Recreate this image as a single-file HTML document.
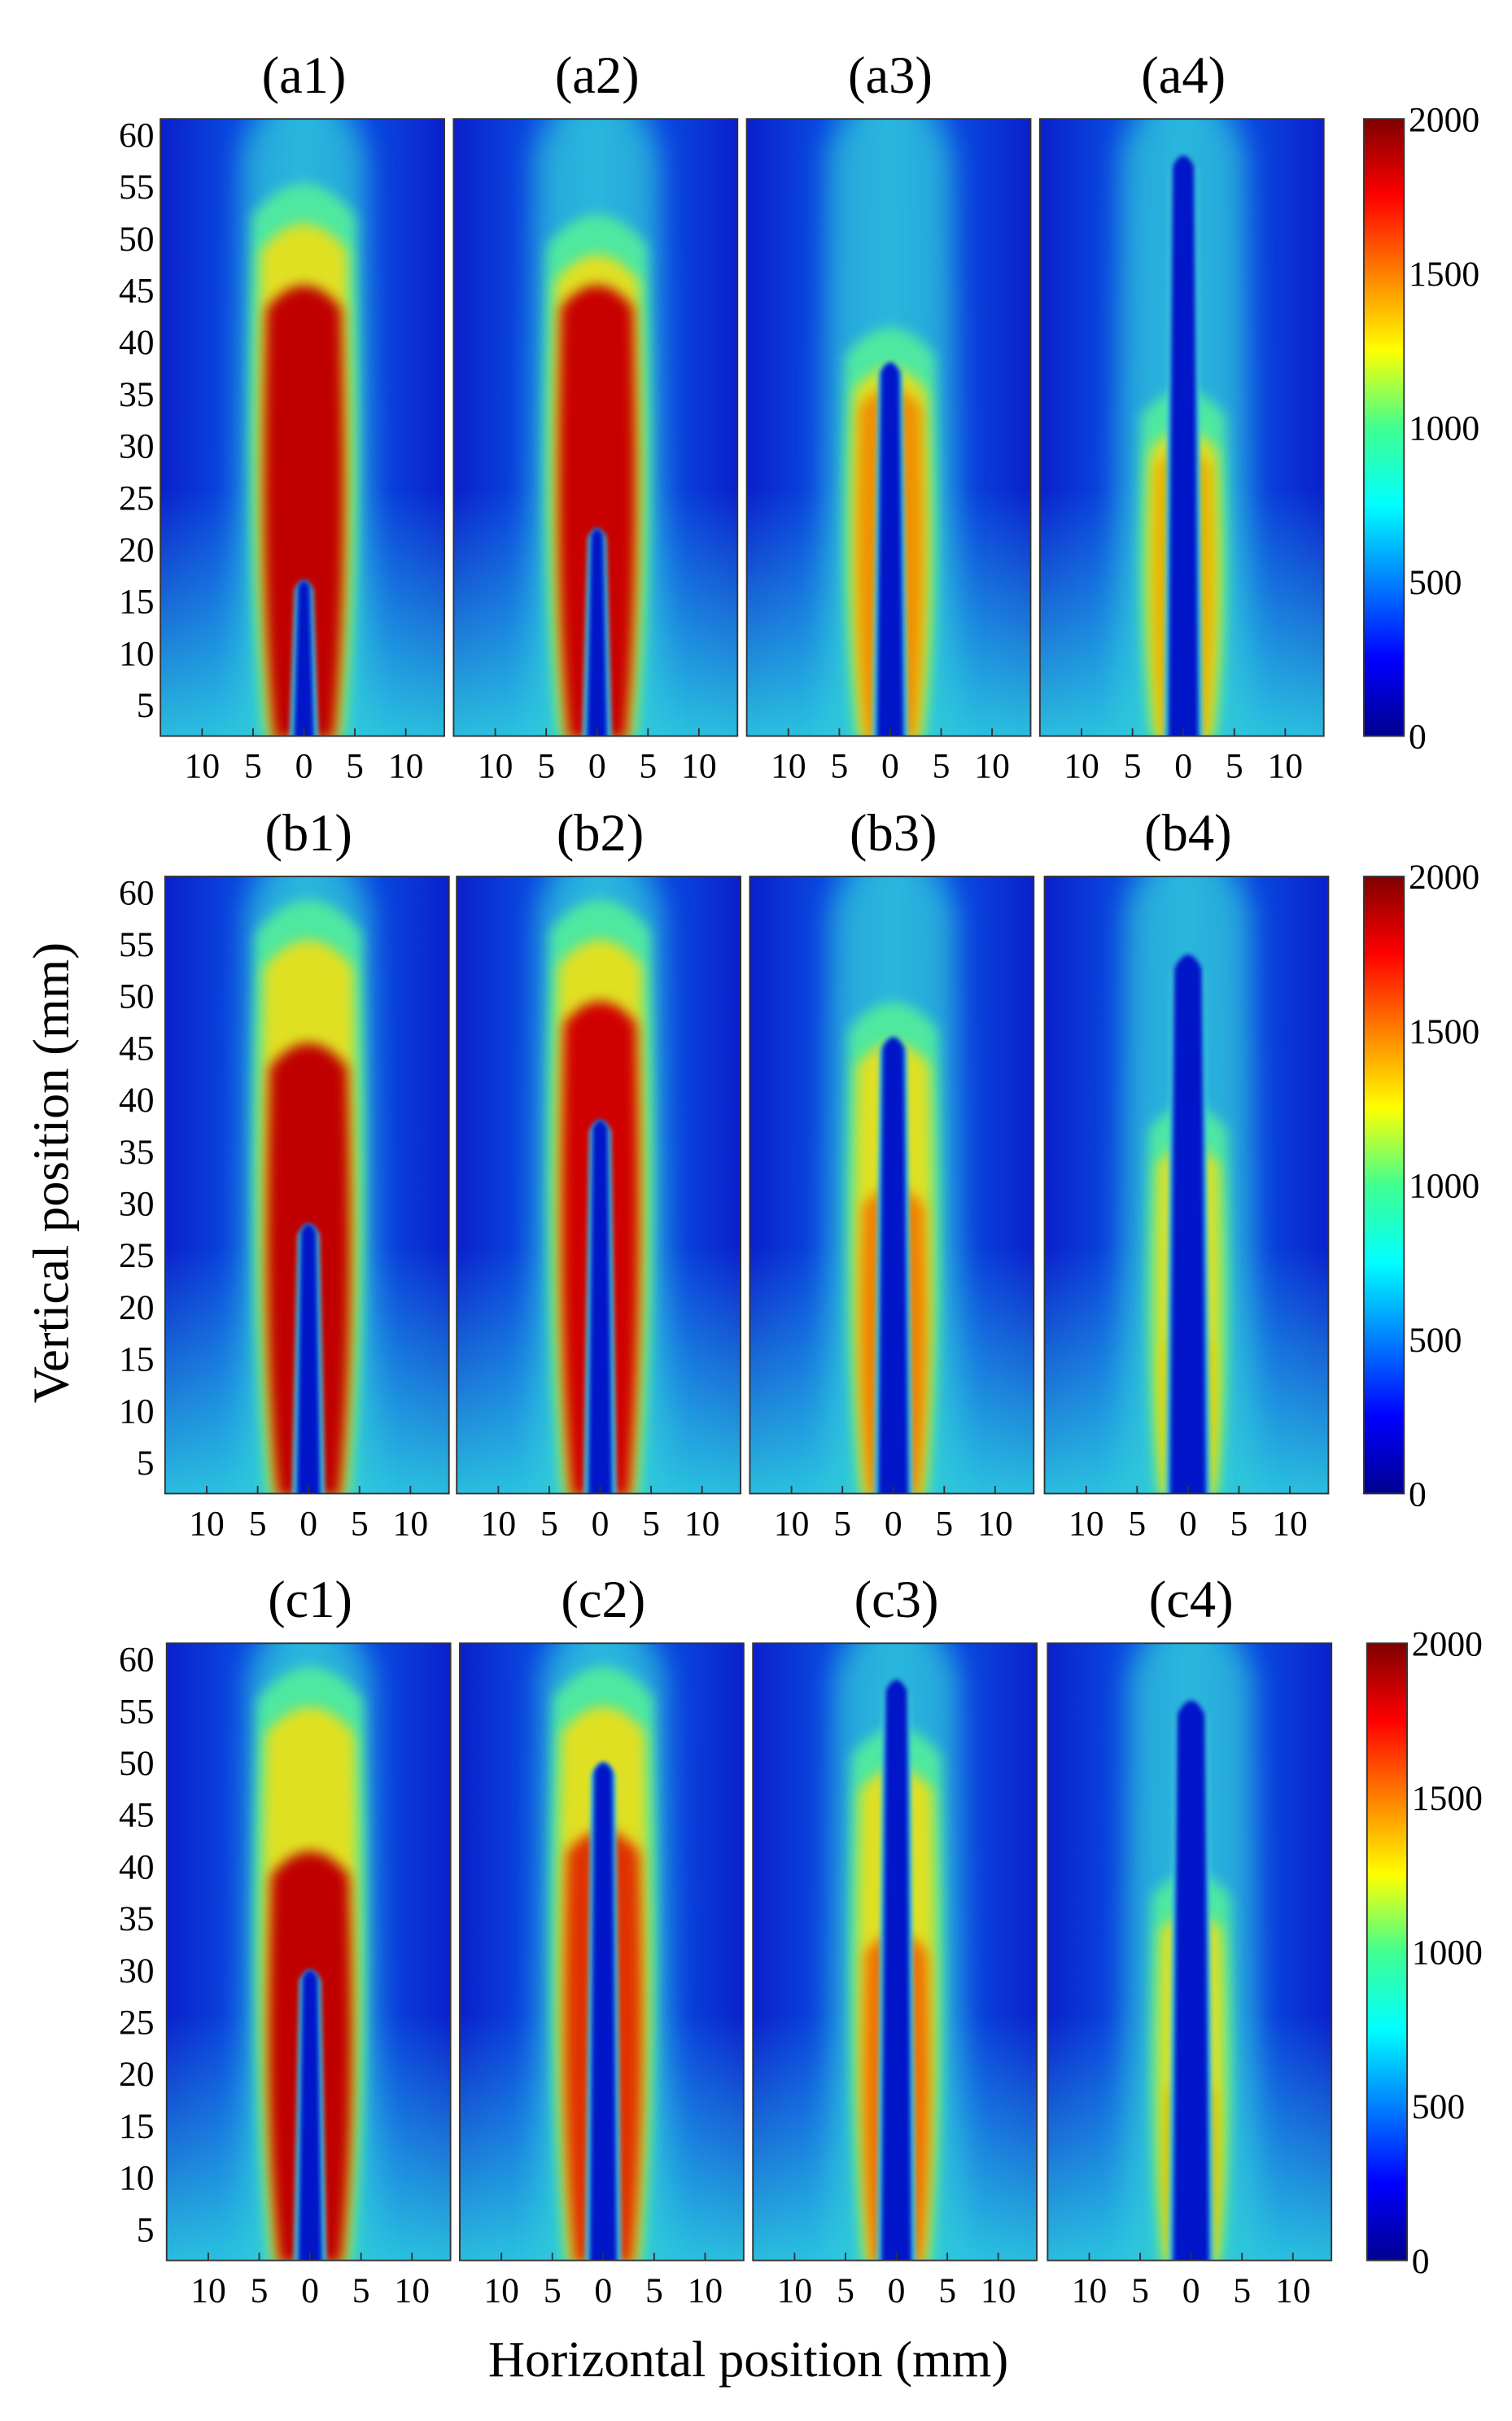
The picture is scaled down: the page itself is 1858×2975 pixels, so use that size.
<!DOCTYPE html>
<html><head><meta charset="utf-8">
<style>html,body{margin:0;padding:0;background:#fff;}svg{display:block;}</style>
</head><body>
<svg id="s" width="1858" height="2975" viewBox="0 0 980 1569" xmlns="http://www.w3.org/2000/svg" font-family="Liberation Serif, serif">
<defs>
<filter id="b1" x="-50%" y="-20%" width="200%" height="140%"><feGaussianBlur stdDeviation="9"/></filter>
<filter id="b2" x="-50%" y="-20%" width="200%" height="140%"><feGaussianBlur stdDeviation="4"/></filter>
<filter id="b3" x="-50%" y="-20%" width="200%" height="140%"><feGaussianBlur stdDeviation="1.5"/></filter>
<linearGradient id="bg" x1="0" x2="1" y1="0" y2="0">
<stop offset="0" stop-color="#0a20cc"/><stop offset="0.25" stop-color="#0a48e0"/><stop offset="0.5" stop-color="#1690ea"/><stop offset="0.75" stop-color="#0a48e0"/><stop offset="1" stop-color="#0a20cc"/></linearGradient>
<linearGradient id="bot" x1="0" x2="0" y1="0" y2="1">
<stop offset="0.6" stop-color="#30d8e8" stop-opacity="0"/><stop offset="1" stop-color="#30d8e0" stop-opacity="0.85"/></linearGradient>
<linearGradient id="jet" x1="0" x2="0" y1="1" y2="0">
<stop offset="0" stop-color="#00008f"/><stop offset="0.125" stop-color="#0000ff"/><stop offset="0.375" stop-color="#00ffff"/><stop offset="0.5" stop-color="#40ff90"/><stop offset="0.625" stop-color="#ffff00"/><stop offset="0.875" stop-color="#ff0000"/><stop offset="1" stop-color="#800000"/></linearGradient>
</defs>
<g id="g"></g>
<text x="485" y="1540" font-size="33" text-anchor="middle">Horizontal position (mm)</text>
<text transform="translate(44,760) rotate(-90)" font-size="33" text-anchor="middle">Vertical position (mm)</text>
</svg>
<script>
var g=document.getElementById('g'),h='';
var rows=[{top:77,xs:[104,294,484,674],lab:'a',cb:884},{top:568,xs:[107,296,486,677],lab:'b',cb:884},{top:1065,xs:[108,298,488,679],lab:'c',cb:886}];
var P={
a:[['#c00000',46,27,54,17,7],['#c80000',46,26,51,22,7],['#f09000',36,22,40,38,9],['#e8b000',30,20,34,58,10]],
b:[['#c00000',46,28,58,28,8],['#d00000',50,26,58,38,8],['#f08000',32,22,48,46,10],['#e0d000',18,18,38,54,12]],
c:[['#c00000',42,28,58,30,8],['#e03000',44,26,58,50,9],['#f07000',34,22,52,58,10],['#d8c000',20,18,38,56,12]]};
function Y(t,mm){return t+(61.5-mm)*6.72;}
function bulge(cx,bot,yt,w){var ym=bot-(bot-yt)*0.55,wb=w*0.72,r=w*0.7;
 return 'M'+(cx-wb)+','+bot+' C'+(cx-w)+','+(bot-(bot-ym)*0.5)+' '+(cx-w)+','+ym+' '+(cx-w*0.9)+','+(yt+r)+' Q'+cx+','+(yt-r*0.6)+' '+(cx+w*0.9)+','+(yt+r)+' C'+(cx+w)+','+ym+' '+(cx+w)+','+(bot-(bot-ym)*0.5)+' '+(cx+wb)+','+bot+' Z';}
function core(cx,bot,yt,wb,wt){var r=Math.max(wt,4);return 'M'+(cx-wb)+','+bot+' L'+(cx-wt)+','+(yt+r)+' Q'+cx+','+(yt-r)+' '+(cx+wt)+','+(yt+r)+' L'+(cx+wb)+','+bot+' Z';}
rows.forEach(function(R){
 var t=R.top,b=t+400;
 R.xs.forEach(function(x,i){
  var w=184,cx=x+w/2+1,p=P[R.lab][i];
  h+='<text x="'+(cx)+'" y="'+(t-17)+'" font-size="34" text-anchor="middle">('+R.lab+(i+1)+')</text>';
  h+='<svg x="'+x+'" y="'+t+'" width="'+w+'" height="400" overflow="hidden"><g transform="translate('+(-x)+','+(-t)+')">';
  h+='<rect x="'+x+'" y="'+t+'" width="'+w+'" height="400" fill="url(#bg)"/>';
  h+='<rect x="'+x+'" y="'+t+'" width="'+w+'" height="400" fill="url(#bot)"/>';
  h+='<path d="'+core(cx,b+20,t-20,44,40)+'" fill="#30c8d8" opacity="0.7" filter="url(#b1)"/>';
  h+='<path d="'+bulge(cx,b+2,Y(t,p[3]+2),p[2]+10)+'" fill="#50e8a0" filter="url(#b2)"/>';
  h+='<path d="'+bulge(cx,b+2,Y(t,p[3]-2),p[2]+4)+'" fill="#e0e020" filter="url(#b2)"/>';
  h+='<path d="'+bulge(cx,b+2,Y(t,p[1]),p[2])+'" fill="'+p[0]+'" filter="url(#b2)"/>';
  h+='<path d="'+core(cx,b+20,Y(t,p[4]),p[5]+3,p[5]-1)+'" fill="#40d0e0" filter="url(#b3)"/>';
  h+='<path d="'+core(cx,b+20,Y(t,p[4]),p[5],p[5]-3)+'" fill="#0018c8" filter="url(#b3)"/>';
  h+='</g></svg>';
  h+='<rect x="'+x+'" y="'+t+'" width="'+w+'" height="400" fill="none" stroke="#333" stroke-width="1"/>';
  var px=6.6;
  [[-10,'10'],[-5,'5'],[0,'0'],[5,'5'],[10,'10']].forEach(function(k){var xx=cx+k[0]*px;
   h+='<line x1="'+xx+'" y1="'+b+'" x2="'+xx+'" y2="'+(b-5)+'" stroke="#333"/>';
   h+='<text x="'+xx+'" y="'+(b+27)+'" font-size="23" text-anchor="middle">'+k[1]+'</text>';});
 });
 for(var m=5;m<=60;m+=5){var yy=Y(t,m);h+='<text x="100" y="'+(yy+8)+'" font-size="23" text-anchor="end">'+m+'</text>';}
 h+='<rect x="'+R.cb+'" y="'+t+'" width="26" height="400" fill="url(#jet)" stroke="#333"/>';
 [[2000,0],[1500,100],[1000,200],[500,300],[0,400]].forEach(function(k){
  h+='<text x="'+(R.cb+29)+'" y="'+(t+k[1]+8)+'" font-size="23">'+k[0]+'</text>';});
});
g.innerHTML=h;
</script>
</body></html>
